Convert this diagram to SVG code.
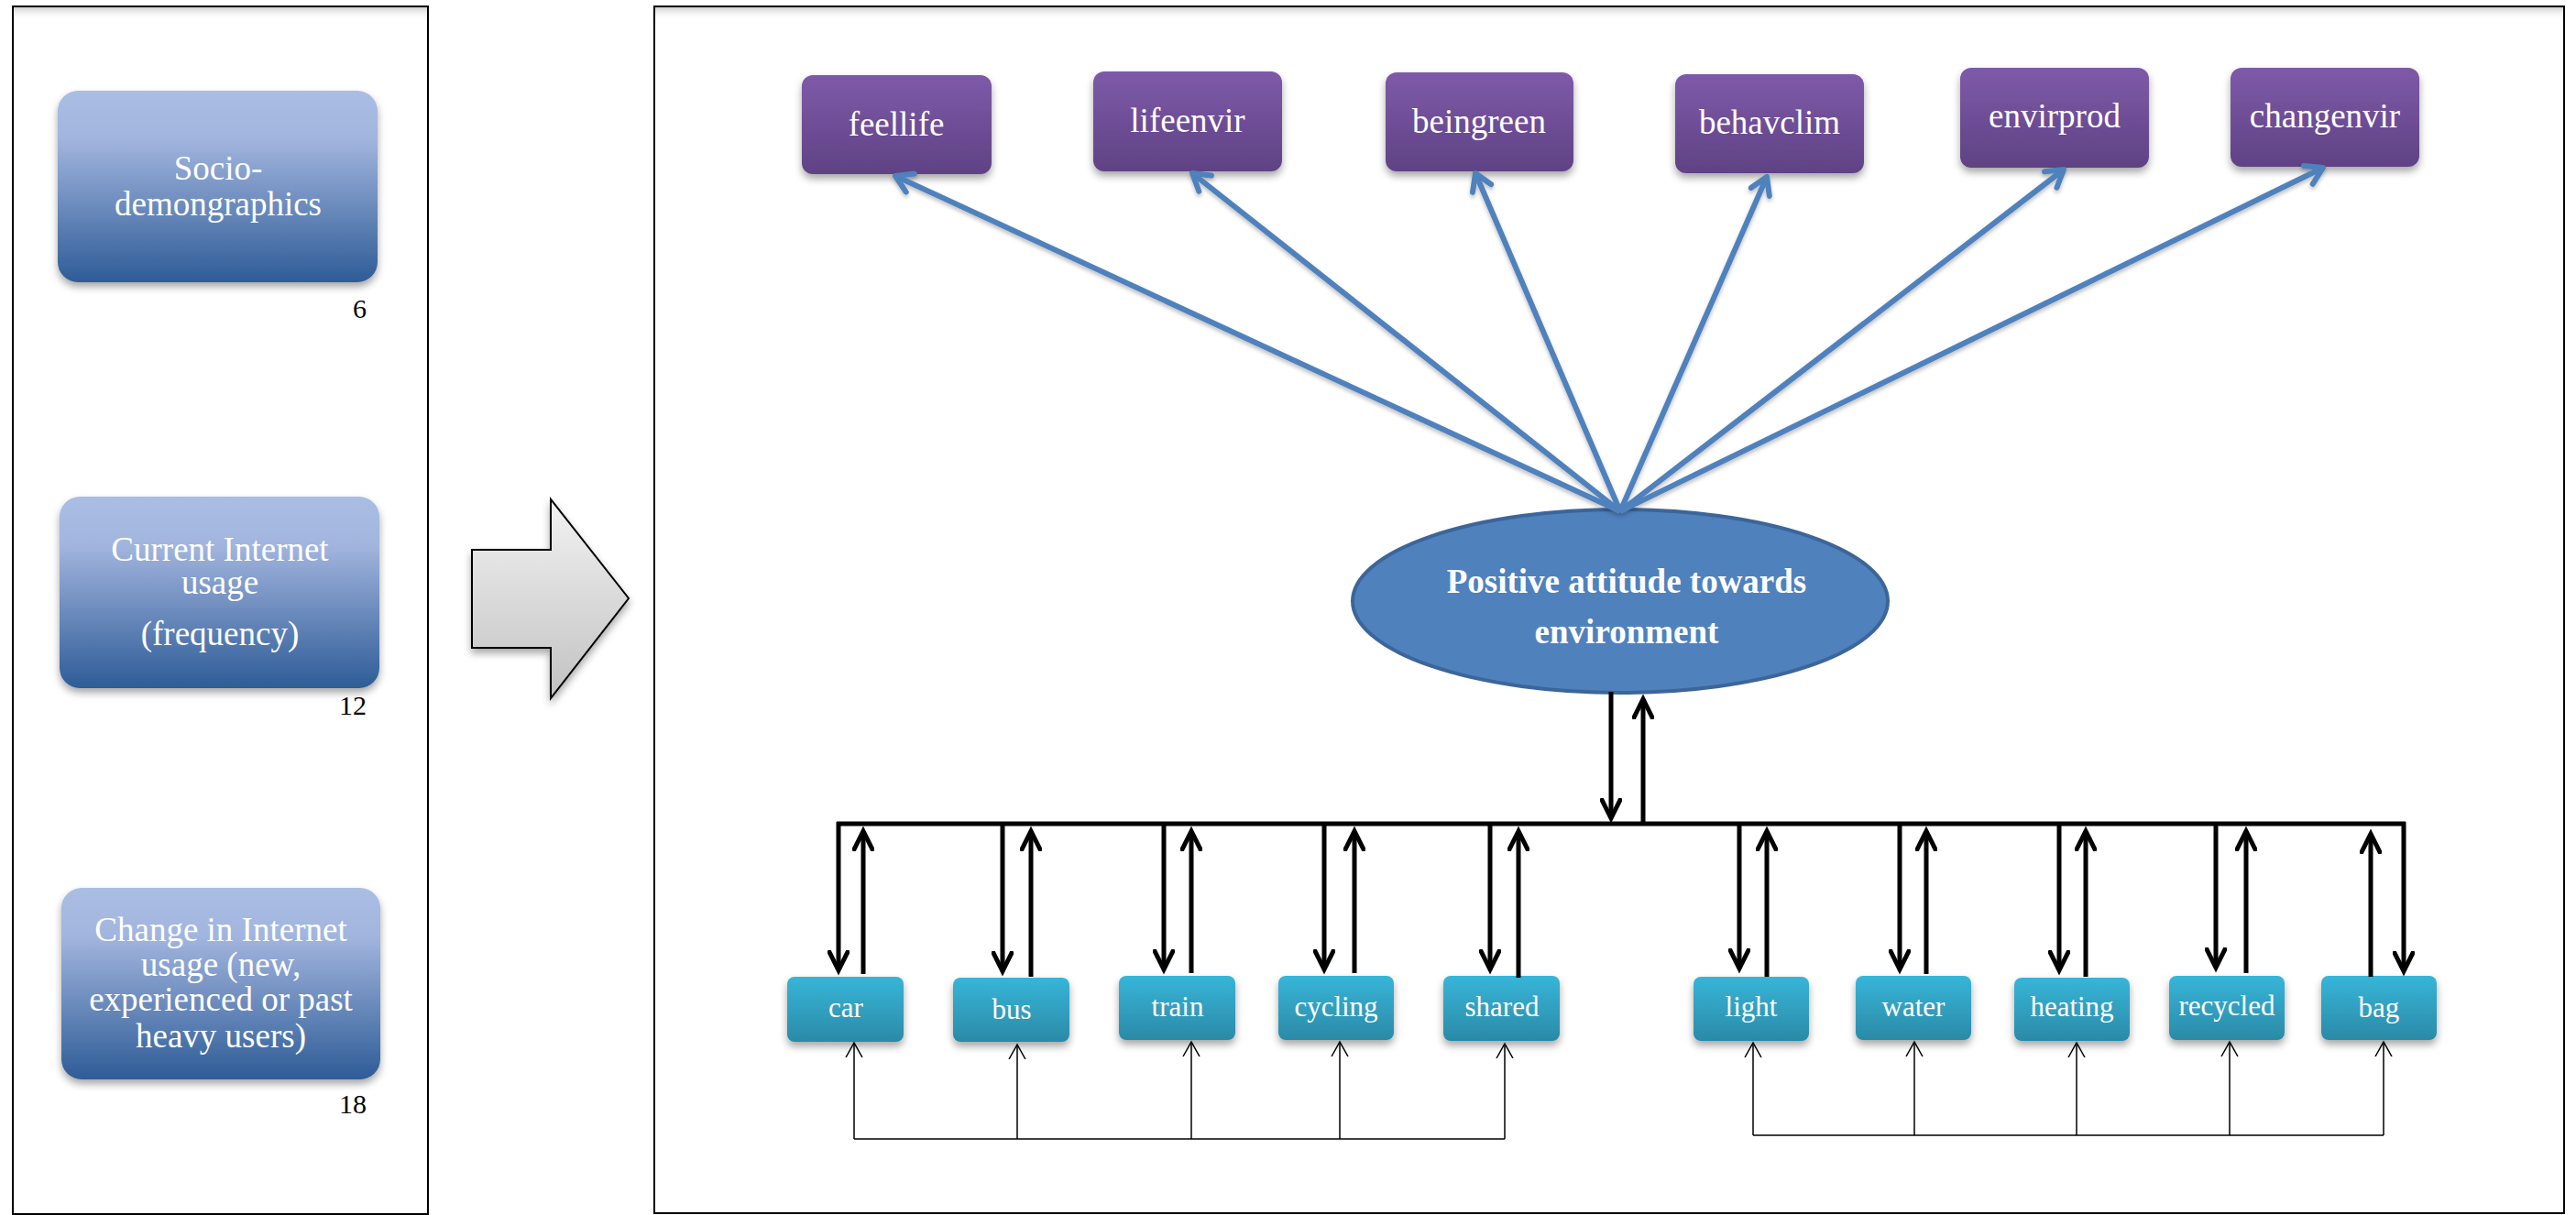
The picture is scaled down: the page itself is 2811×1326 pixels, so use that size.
<svg xmlns="http://www.w3.org/2000/svg" width="2811" height="1326" viewBox="0 0 2811 1326">
<defs>
<linearGradient id="gBlue" x1="0" y1="0" x2="0" y2="1"><stop offset="0" stop-color="#AABEE4"/><stop offset="0.25" stop-color="#A2B5DE"/><stop offset="1" stop-color="#2E5C97"/></linearGradient>
<linearGradient id="gPurple" x1="0" y1="0" x2="0" y2="1"><stop offset="0" stop-color="#7E5AA9"/><stop offset="1" stop-color="#5F4284"/></linearGradient>
<linearGradient id="gTeal" x1="0" y1="0" x2="0" y2="1"><stop offset="0" stop-color="#37B5D8"/><stop offset="1" stop-color="#2B8AA7"/></linearGradient>
<linearGradient id="gGray" x1="0" y1="0" x2="0" y2="1"><stop offset="0" stop-color="#F2F2F2"/><stop offset="1" stop-color="#C2C2C2"/></linearGradient>
<linearGradient id="gTop" x1="0" y1="0" x2="0" y2="1"><stop offset="0" stop-color="#D0D0D0"/><stop offset="1" stop-color="#FFFFFF" stop-opacity="0"/></linearGradient>
<filter id="sh" x="-10%" y="-10%" width="120%" height="130%"><feDropShadow dx="0" dy="5" stdDeviation="4" flood-color="#000" flood-opacity="0.35"/></filter>
<filter id="lsh" x="-5%" y="-5%" width="110%" height="110%"><feDropShadow dx="0" dy="3" stdDeviation="2" flood-color="#000" flood-opacity="0.25"/></filter>
<marker id="ahB" markerUnits="userSpaceOnUse" viewBox="0 0 28 24" markerWidth="28" markerHeight="24" refX="22" refY="12" orient="auto"><path d="M0,1 L22,12 L0,23" fill="none" stroke="#000" stroke-width="5"/></marker>
<marker id="ahT" markerUnits="userSpaceOnUse" viewBox="0 0 20 20" markerWidth="20" markerHeight="20" refX="16" refY="10" orient="auto"><path d="M0,1 L16,10 L0,19" fill="none" stroke="#000" stroke-width="1.5"/></marker>
<marker id="ahL" markerUnits="userSpaceOnUse" viewBox="0 0 28 28" markerWidth="28" markerHeight="28" refX="22" refY="14" orient="auto"><path d="M4,3 L22,14 L4,25" fill="none" stroke="#4F81BD" stroke-width="6" stroke-linecap="round" stroke-linejoin="round"/></marker>
</defs>
<style>
.panel{fill:#fff;stroke:#000;stroke-width:2}
.ltxt{font-family:"Liberation Serif","Times New Roman",serif;font-size:37px;fill:#fff;text-anchor:middle}
.num{font-family:"Liberation Serif","Times New Roman",serif;font-size:30px;fill:#000;text-anchor:end}
.ptxt{font-family:"Liberation Serif","Times New Roman",serif;font-size:37px;fill:#fff;text-anchor:middle}
.ttxt{font-family:"Liberation Serif","Times New Roman",serif;font-size:31px;fill:#fff;text-anchor:middle}
.etxt{font-family:"Liberation Serif","Times New Roman",serif;font-size:37px;font-weight:bold;fill:#fff;text-anchor:middle}
.blue{fill:url(#gBlue);filter:url(#sh)}
.purple{fill:url(#gPurple);filter:url(#sh)}
.teal{fill:url(#gTeal);filter:url(#sh)}
.thick{stroke:#000;stroke-width:5;fill:none}
.thin{stroke:#000;stroke-width:1.5;fill:none}
.lb{stroke:#4F81BD;stroke-width:6;fill:none;marker-end:url(#ahL)}
</style>
<rect width="2811" height="1326" fill="#fff"/>
<g id="panels">
<rect class="panel" x="14" y="7" width="453" height="1318"/>
<rect x="15" y="8" width="451" height="14" fill="url(#gTop)"/>
<rect class="panel" x="714" y="7" width="2084" height="1317"/>
<rect x="715" y="8" width="2082" height="14" fill="url(#gTop)"/>
</g>
<g id="socio">
<rect class="blue" x="63" y="99" width="349" height="209" rx="22"/>
<text class="ltxt" x="238" y="196">Socio-</text>
<text class="ltxt" x="238" y="235">demongraphics</text>
<text class="num" x="400" y="347">6</text>
</g>
<g id="current">
<rect class="blue" x="65" y="542" width="349" height="209" rx="22"/>
<text class="ltxt" x="240" y="612">Current Internet</text>
<text class="ltxt" x="240" y="648">usage</text>
<text class="ltxt" x="240" y="704">(frequency)</text>
<text class="num" x="400" y="780">12</text>
</g>
<g id="change">
<rect class="blue" x="67" y="969" width="348" height="209" rx="22"/>
<text class="ltxt" x="241" y="1027">Change in Internet</text>
<text class="ltxt" x="241" y="1065">usage (new,</text>
<text class="ltxt" x="241" y="1103">experienced or past</text>
<text class="ltxt" x="241" y="1143">heavy users)</text>
<text class="num" x="400" y="1215">18</text>
</g>
<g id="bigarrow">
<path d="M515,600 L601,600 L601,545 L686,653 L601,762 L601,707 L515,707 Z" fill="url(#gGray)" stroke="#000" stroke-width="2" filter="url(#sh)"/>
</g>
<g id="feellife"><rect class="purple" x="875" y="82" width="207" height="108" rx="12"/><text class="ptxt" x="978" y="148">feellife</text></g>
<g id="lifeenvir"><rect class="purple" x="1193" y="78" width="206" height="109" rx="12"/><text class="ptxt" x="1296" y="144">lifeenvir</text></g>
<g id="beingreen"><rect class="purple" x="1512" y="79" width="205" height="108" rx="12"/><text class="ptxt" x="1614" y="145">beingreen</text></g>
<g id="behavclim"><rect class="purple" x="1828" y="81" width="206" height="108" rx="12"/><text class="ptxt" x="1931" y="146">behavclim</text></g>
<g id="envirprod"><rect class="purple" x="2139" y="74" width="206" height="109" rx="12"/><text class="ptxt" x="2242" y="139">envirprod</text></g>
<g id="changenvir"><rect class="purple" x="2434" y="74" width="206" height="108" rx="12"/><text class="ptxt" x="2537" y="139">changenvir</text></g>
<g id="attitude">
<ellipse cx="1768" cy="656" rx="292" ry="100" fill="#4F81BD" stroke="#3C6599" stroke-width="4"/>
<text class="etxt" x="1775" y="647">Positive attitude towards</text>
<text class="etxt" x="1775" y="702">environment</text>
</g>
<g id="car"><rect class="teal" x="859" y="1066" width="127" height="71" rx="8"/><text class="ttxt" x="923" y="1110">car</text></g>
<g id="bus"><rect class="teal" x="1040" y="1067" width="127" height="70" rx="8"/><text class="ttxt" x="1104" y="1112">bus</text></g>
<g id="train"><rect class="teal" x="1221" y="1065" width="127" height="70" rx="8"/><text class="ttxt" x="1285" y="1109">train</text></g>
<g id="cycling"><rect class="teal" x="1395" y="1065" width="126" height="70" rx="8"/><text class="ttxt" x="1458" y="1109">cycling</text></g>
<g id="shared"><rect class="teal" x="1575" y="1065" width="127" height="71" rx="8"/><text class="ttxt" x="1639" y="1109">shared</text></g>
<g id="light"><rect class="teal" x="1848" y="1066" width="126" height="70" rx="8"/><text class="ttxt" x="1911" y="1109">light</text></g>
<g id="water"><rect class="teal" x="2025" y="1065" width="126" height="70" rx="8"/><text class="ttxt" x="2088" y="1109">water</text></g>
<g id="heating"><rect class="teal" x="2198" y="1067" width="126" height="69" rx="8"/><text class="ttxt" x="2261" y="1109">heating</text></g>
<g id="recycled"><rect class="teal" x="2367" y="1065" width="126" height="70" rx="8"/><text class="ttxt" x="2430" y="1108">recycled</text></g>
<g id="bag"><rect class="teal" x="2533" y="1065" width="126" height="70" rx="8"/><text class="ttxt" x="2596" y="1110">bag</text></g>
<g id="connectors">
<g filter="url(#lsh)">
<line class="lb" x1="1768" y1="558" x2="977" y2="192"/>
<line class="lb" x1="1768" y1="558" x2="1301" y2="189"/>
<line class="lb" x1="1768" y1="558" x2="1610" y2="189"/>
<line class="lb" x1="1768" y1="558" x2="1928" y2="193"/>
<line class="lb" x1="1768" y1="558" x2="2252" y2="185"/>
<line class="lb" x1="1768" y1="558" x2="2535" y2="183"/>
</g>
<path class="thick" d="M913,899 H2625"/>
<line class="thick" x1="1758" y1="755" x2="1758" y2="893" marker-end="url(#ahB)"/>
<line class="thick" x1="1793" y1="899" x2="1793" y2="763" marker-end="url(#ahB)"/>
<g marker-end="url(#ahB)">
<line class="thick" x1="915" y1="897" x2="915" y2="1059"/>
<line class="thick" x1="942" y1="1063" x2="942" y2="907"/>
<line class="thick" x1="1094" y1="899" x2="1094" y2="1060"/>
<line class="thick" x1="1125" y1="1066" x2="1125" y2="907"/>
<line class="thick" x1="1270" y1="899" x2="1270" y2="1058"/>
<line class="thick" x1="1300" y1="1062" x2="1300" y2="907"/>
<line class="thick" x1="1445" y1="899" x2="1445" y2="1058"/>
<line class="thick" x1="1478" y1="1062" x2="1478" y2="907"/>
<line class="thick" x1="1626" y1="899" x2="1626" y2="1058"/>
<line class="thick" x1="1657" y1="1067" x2="1657" y2="907"/>
<line class="thick" x1="1898" y1="899" x2="1898" y2="1057"/>
<line class="thick" x1="1928" y1="1066" x2="1928" y2="907"/>
<line class="thick" x1="2073" y1="899" x2="2073" y2="1058"/>
<line class="thick" x1="2102" y1="1063" x2="2102" y2="907"/>
<line class="thick" x1="2247" y1="899" x2="2247" y2="1059"/>
<line class="thick" x1="2276" y1="1066" x2="2276" y2="907"/>
<line class="thick" x1="2418" y1="899" x2="2418" y2="1056"/>
<line class="thick" x1="2451" y1="1062" x2="2451" y2="907"/>
<line class="thick" x1="2587" y1="1066" x2="2587" y2="910"/>
<line class="thick" x1="2623" y1="897" x2="2623" y2="1060"/>
</g>
<path class="thin" d="M932,1243 H1642" stroke-width="2"/>
<path class="thin" d="M1913,1239 H2601" stroke-width="2"/>
<g marker-end="url(#ahT)">
<line class="thin" x1="932" y1="1243" x2="932" y2="1138"/>
<line class="thin" x1="1110" y1="1243" x2="1110" y2="1140"/>
<line class="thin" x1="1300" y1="1243" x2="1300" y2="1137"/>
<line class="thin" x1="1462" y1="1243" x2="1462" y2="1137"/>
<line class="thin" x1="1642" y1="1243" x2="1642" y2="1139"/>
<line class="thin" x1="1913" y1="1239" x2="1913" y2="1138"/>
<line class="thin" x1="2089" y1="1239" x2="2089" y2="1137"/>
<line class="thin" x1="2266" y1="1239" x2="2266" y2="1138"/>
<line class="thin" x1="2433" y1="1239" x2="2433" y2="1137"/>
<line class="thin" x1="2601" y1="1239" x2="2601" y2="1137"/>
</g>
</g>
</svg>
